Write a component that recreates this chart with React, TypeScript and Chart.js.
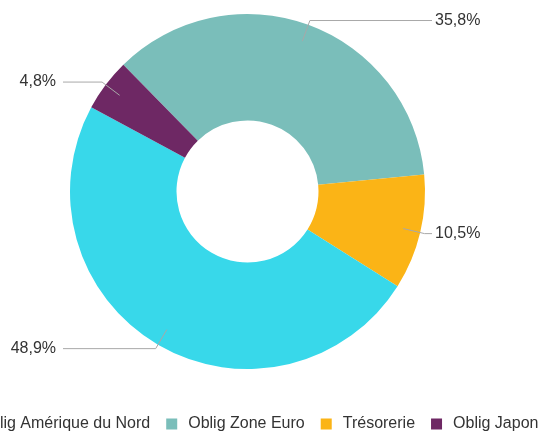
import { useEffect, useRef } from "react";
import { Chart, registerables } from "chart.js";

Chart.register(...registerables);

const categories = ["Oblig Zone Euro", "Trésorerie", "Oblig Amérique du Nord", "Oblig Japon"];
const values = [35.8, 10.5, 48.9, 4.8];
const colors = ["#7abeba", "#fbb416", "#38d8ea", "#6e2864"];
const legendOrder = ["Oblig Amérique du Nord", "Oblig Zone Euro", "Trésorerie", "Oblig Japon"];
const valueLabels = values.map((v) => v.toFixed(1).replace(".", ",") + "%");

const FONT = '16px "Liberation Sans", Arial, Helvetica, sans-serif';
const TEXT_COLOR = "#333333";

const leaderPlugin = {
  id: "leaderLabels",
  afterDatasetsDraw(chart: any) {
    const meta = chart.getDatasetMeta(0);
    const ctx = chart.ctx;
    ctx.save();
    ctx.font = FONT;
    ctx.textBaseline = "middle";
    meta.data.forEach((arc: any, i: number) => {
      const { x, y, startAngle, endAngle, outerRadius } = arc.getProps(
        ["x", "y", "startAngle", "endAngle", "outerRadius"],
        true
      );
      const mid = (startAngle + endAngle) / 2;
      const r1 = outerRadius - 17.5;
      const r2 = outerRadius + 4.5;
      const x1 = x + Math.cos(mid) * r1;
      const y1 = y + Math.sin(mid) * r1;
      const x2 = x + Math.cos(mid) * r2;
      const y2 = y + Math.sin(mid) * r2;
      const right = Math.cos(mid) >= 0;
      const xe = right ? x + outerRadius + 7 : x - outerRadius - 7;
      ctx.strokeStyle = "#a8a8a8";
      ctx.lineWidth = 1;
      ctx.beginPath();
      ctx.moveTo(x1, y1);
      ctx.lineTo(x2, y2);
      ctx.lineTo(xe, y2);
      ctx.stroke();
      ctx.fillStyle = TEXT_COLOR;
      ctx.textAlign = right ? "left" : "right";
      ctx.fillText(valueLabels[i], right ? xe + 3 : xe - 7, y2);
    });
    ctx.restore();
  },
};

const legendPlugin = {
  id: "wideLegend",
  afterDraw(chart: any) {
    const ctx = chart.ctx;
    const area = chart.chartArea;
    ctx.save();
    ctx.font = FONT;
    ctx.textBaseline = "middle";
    ctx.textAlign = "left";
    const box = 11;
    const boxGap = 11;
    const itemGap = 16;
    const widths = legendOrder.map((t) => ctx.measureText(t).width);
    const total =
      widths.reduce((a, b) => a + b, 0) + legendOrder.length * (box + boxGap) + itemGap * (legendOrder.length - 1);
    let cx = (area.left + area.right) / 2 - total / 2;
    const cy = 424;
    legendOrder.forEach((name, k) => {
      const idx = categories.indexOf(name);
      ctx.fillStyle = colors[idx];
      ctx.fillRect(cx, cy - box / 2, box, box);
      ctx.fillStyle = TEXT_COLOR;
      ctx.fillText(name, cx + box + boxGap, cy);
      cx += box + boxGap + widths[k] + itemGap;
    });
    ctx.restore();
  },
};

export default function App() {
  const canvasRef = useRef<HTMLCanvasElement | null>(null);

  useEffect(() => {
    if (!canvasRef.current) return;
    const chart = new Chart(canvasRef.current, {
      type: "doughnut",
      data: {
        labels: categories,
        datasets: [
          {
            data: values,
            backgroundColor: colors,
            borderWidth: 0,
            hoverOffset: 0,
          },
        ],
      },
      options: {
        animation: false,
        responsive: true,
        maintainAspectRatio: false,
        cutout: "40%",
        rotation: -44.4,
        layout: { padding: { left: 0, right: 44, top: 14, bottom: 62 } },
        plugins: {
          legend: { display: false },
          tooltip: { enabled: false },
        },
      },
      plugins: [leaderPlugin, legendPlugin],
    });
    return () => chart.destroy();
  }, []);

  return (
    <div style={{ position: "fixed", left: 0, top: 0, width: 539, height: 431, background: "#ffffff" }}>
      <canvas ref={canvasRef} />
    </div>
  );
}
